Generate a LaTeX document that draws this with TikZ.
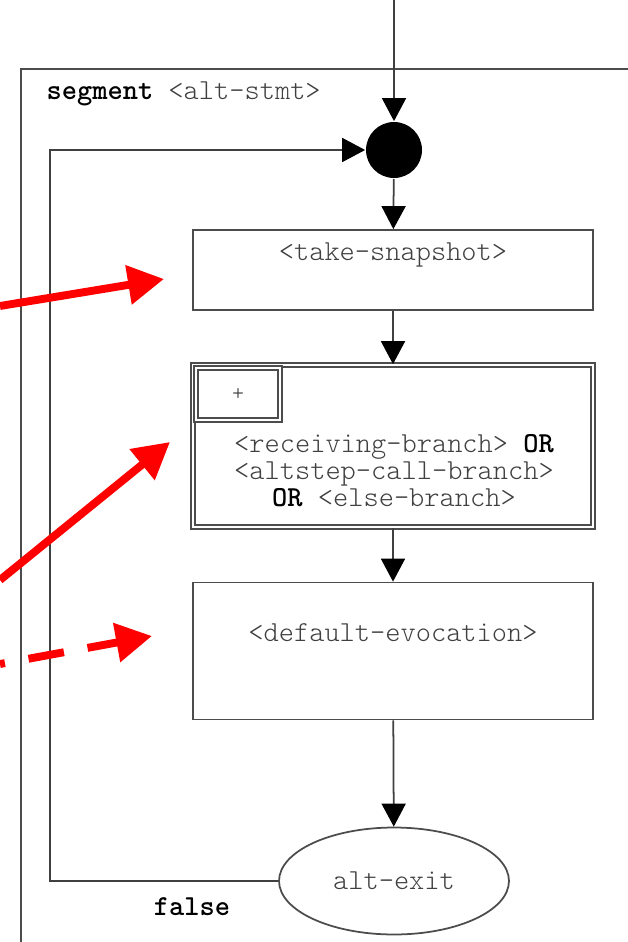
\documentclass[tikz,border=0pt]{standalone}
\usepackage{fontspec}
\setmonofont{lmmonolt10-regular.otf}[BoldFont = lmmonolt10-bold.otf]
\usetikzlibrary{arrows.meta, shapes.geometric}
\newcommand{\altfont}{\ttfamily\fontsize{16.5}{15.4}\selectfont}
\newcommand{\kw}[1]{\textbf{\color{black}#1}}

\begin{document}
\begin{tikzpicture}[x = 0.02cm, y = -0.02cm, line width = 1pt,
  every node/.style = {font = \altfont, text = black!75},
  box/.style = {rectangle, draw = black!70, inner sep = 0, minimum width = 8cm, text height = 0.3cm, text depth = 0.68cm},
  flow/.style = {draw = black!75, -{Triangle[length = 0.46cm, width = 0.48cm, color = black]}},
  pointer/.style = {draw = red, line width = 4.5pt, -{Triangle[length = 0.72cm, width = 0.76cm]}}]
	\useasboundingbox (0, 0) rectangle (628, 942);

	% segment frame
	\coordinate (frameNE) at (628, 69);
	\coordinate (frameSW) at (21, 942);
	\draw[black!70] (frameNE) -| (frameSW);
	\node[anchor = west] (seglbl) at (40, 94) {\kw{segment} <alt-stmt>};

	\coordinate (entry) at (394, 0);
	\node[circle, fill = black, inner sep = 0, minimum size = 1.12cm] (merge) at (394, 150) {};
	\node[box, minimum height = 1.6cm] (snap) at (393, 270) {<take-snapshot>};
	\node[box, double, double distance = 0.05cm, minimum height = 3.24cm] (branch) at (393, 446) {};
	\node[draw = black!70, double, double distance = 0.05cm, inner sep = 0, minimum width = 1.68cm, minimum height = 1.04cm] (multi) at (238, 394) {\fontsize{13}{13}\selectfont +};
	\node[align = center] (branchtxt) at (394, 471) {<receiving-branch> \kw{OR}\\ <altstep-call-branch>\\ \kw{OR} <else-branch>};
	\node[box, minimum height = 2.74cm] (evoke) at (393, 651) {<default-evocation>};
	\node[ellipse, draw = black!70, minimum width = 4.6cm, minimum height = 2.14cm] (exit) at (394, 881) {alt-exit};
	\node (falselbl) at (192, 907) {\kw{false}};

	\foreach \from/\to in {entry/merge, merge/snap, snap/branch, branch/evoke, evoke/exit}
		\draw[flow] (\from) -- (\to);
	\coordinate (loop) at (50, 881);
	\draw[flow] (exit.west) -- (loop) |- (merge.west);

	% red pointers
	\coordinate (snapptr) at (0, 306);
	\coordinate (snaptip) at (164, 279);
	\coordinate (branchptr) at (0, 580);
	\coordinate (branchtip) at (170, 442);
	\coordinate (evokeptr) at (0, 664);
	\coordinate (evoketip) at (152, 636);
	\draw[pointer] (snapptr) -- (snaptip);
	\draw[pointer] (branchptr) -- (branchtip);
	\draw[pointer, dash pattern = on 0.72cm off 0.48cm, dash phase = 0.62cm] (evokeptr) -- (evoketip);
\end{tikzpicture}
\end{document}
